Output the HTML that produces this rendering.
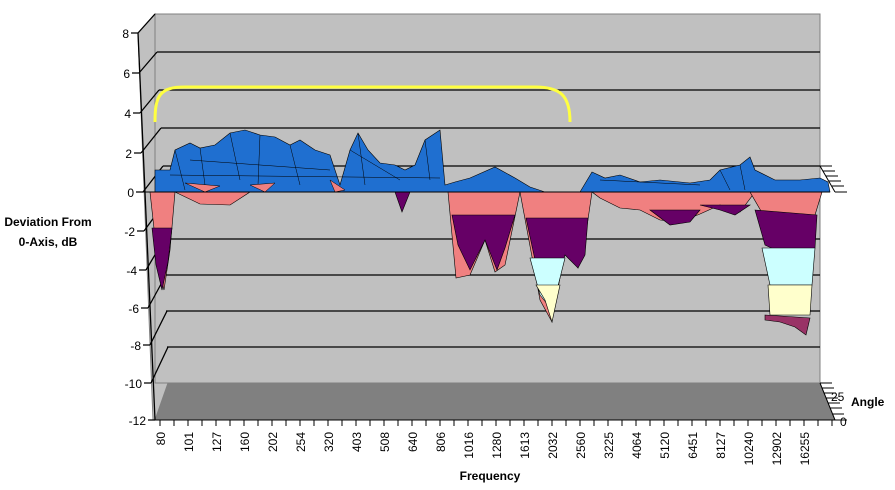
<!DOCTYPE html>
<html><head><style>body{margin:0;background:#fff}svg{display:block}text{font-family:"Liberation Sans",sans-serif}</style></head><body>
<svg width="895" height="490" xmlns="http://www.w3.org/2000/svg">
<rect width="895" height="490" fill="#fff"/>
<!-- side wall -->
<polygon points="138,33 155,14 168,383 155,420 153,420" fill="#c0c0c0" stroke="#808080"/>
<!-- back wall -->
<rect x="155" y="14" width="665" height="369" fill="#c0c0c0" stroke="#808080"/>
<!-- floor -->
<polygon points="155,420 168,383 820,383 835,420" fill="#808080"/>
<g stroke="#000" stroke-width="1.3">
<line x1="157" y1="52" x2="820" y2="52"/><line x1="159" y1="90" x2="820" y2="90"/><line x1="161" y1="128" x2="820" y2="128"/><line x1="163" y1="166" x2="820" y2="166"/>
<line x1="163" y1="239" x2="820" y2="239"/><line x1="165" y1="275" x2="820" y2="275"/><line x1="166" y1="311" x2="820" y2="311"/><line x1="167" y1="347" x2="820" y2="347"/>
<line x1="138" y1="33" x2="155" y2="14"/><line x1="139" y1="73" x2="157" y2="52"/><line x1="140" y1="113" x2="159" y2="90"/><line x1="141" y1="153" x2="161" y2="128"/><line x1="143" y1="192" x2="163" y2="166"/>
<line x1="144" y1="231" x2="163" y2="205"/><line x1="146" y1="270" x2="165" y2="238"/><line x1="148" y1="308" x2="166" y2="275"/><line x1="150" y1="345" x2="167" y2="311"/><line x1="151" y1="383" x2="168" y2="347"/>
<line x1="138" y1="33" x2="155" y2="420"/>
<path d="M131,33h7 M132,73h7 M133,113h7 M134,153h7 M136,192h7 M137,231h7 M139,270h7 M141,308h7 M143,345h7 M144,383h7 M148,420h7"/>
</g>
<!-- y labels -->
<g font-size="12" text-anchor="end" fill="#000">
<text x="129" y="38">8</text><text x="130" y="78">6</text><text x="131" y="118">4</text><text x="132" y="158">2</text><text x="134" y="197">0</text>
<text x="135" y="236">-2</text><text x="137" y="275">-4</text><text x="139" y="313">-6</text><text x="141" y="350">-8</text><text x="142" y="388">-10</text><text x="146" y="425">-12</text>
</g>
<!-- yellow curve -->
<path d="M155,122 C155,95 160,87 185,87 L535,87 C560,87 570,95 570,122" fill="none" stroke="#ffff40" stroke-width="3"/>
<!-- below zero -->
<g stroke="#000" stroke-width="0.6">
<polygon points="150,192 175,192 170,250 164,290 158,265" fill="#f08080"/>
<polygon points="152,228 172,228 168,262 162,290 156,265" fill="#660066"/>
<polygon points="175,192 250,192 230,205 200,204" fill="#f08080"/>
<polygon points="395,192 410,192 402,212" fill="#660066"/>
<polygon points="448,192 520,192 505,265 495,272 485,240 470,275 456,278" fill="#f08080"/>
<polygon points="452,215 515,215 505,248 497,270 485,240 470,270 458,245" fill="#660066"/>
<polygon points="520,192 592,192 585,240 578,268 565,250 552,322 540,300" fill="#f08080"/>
<polygon points="526,218 588,218 585,255 578,268 565,255 552,300 535,260" fill="#660066"/>
<polygon points="530,258 565,258 552,310 540,295" fill="#ccffff"/>
<polygon points="536,285 560,285 552,322 545,300" fill="#ffffcc"/>
<polygon points="592,192 755,192 740,212 720,205 700,214 680,222 660,220 640,210 620,208 600,198" fill="#f08080"/>
<polygon points="650,210 700,210 690,222 670,225" fill="#660066"/>
<polygon points="700,205 750,205 735,215 720,210" fill="#660066"/>
<polygon points="750,192 822,192 815,215 790,222 765,218" fill="#f08080"/>
<polygon points="755,210 817,215 815,248 780,252 765,245" fill="#660066"/>
<polygon points="762,248 815,248 812,285 770,285" fill="#ccffff"/>
<polygon points="768,285 812,285 810,315 770,315" fill="#ffffcc"/>
<polygon points="765,315 810,318 806,335 795,327 780,322 765,320" fill="#993366"/>
</g>
<!-- blue surface -->
<polygon points="155,192 155,170 170,170 175,150 190,143 200,148 215,145 230,133 245,130 260,135 275,137 290,145 300,140 315,150 330,155 340,185 350,150 358,133 368,150 380,163 395,165 405,170 415,165 425,140 440,130 445,185 455,182 470,178 495,167 515,178 530,187 545,192 580,192 592,172 605,178 620,175 640,182 660,180 690,183 710,180 720,170 740,165 750,157 755,170 775,180 800,180 820,178 828,182 830,192" fill="#1f6fd0" stroke="#000" stroke-width="0.6"/>
<g stroke="#000" stroke-width="0.5" fill="none">
<path d="M175,150 L185,190 M200,148 L205,185 M230,133 L240,180 M260,135 L258,185 M290,145 L300,185 M358,133 L365,185 M425,140 L430,180 M190,160 L330,170 M170,175 L440,178 M350,150 L400,180 M720,170 L730,190 M740,165 L745,190 M600,180 L700,185"/>
</g>
<polygon points="185,183 220,186 205,192" fill="#f08080" stroke="#000" stroke-width="0.5"/>
<polygon points="250,185 275,183 265,192" fill="#f08080" stroke="#000" stroke-width="0.5"/>
<polygon points="330,180 345,190 335,192" fill="#f08080" stroke="#000" stroke-width="0.5"/>
<!-- x axis line and ticks -->
<line x1="143" y1="192" x2="830" y2="192" stroke="#000"/>
<g stroke="#000">
<line x1="155" y1="420" x2="835" y2="420"/>
<path d="M160,420v6 M174,420v6 M188,420v6 M202,420v6 M216,420v6 M230,420v6 M244,420v6 M258,420v6 M272,420v6 M286,420v6 M300,420v6 M314,420v6 M328,420v6 M342,420v6 M356,420v6 M370,420v6 M384,420v6 M398,420v6 M412,420v6 M426,420v6 M440,420v6 M454,420v6 M468,420v6 M482,420v6 M496,420v6 M510,420v6 M524,420v6 M538,420v6 M552,420v6 M566,420v6 M580,420v6 M594,420v6 M608,420v6 M622,420v6 M636,420v6 M650,420v6 M664,420v6 M678,420v6 M692,420v6 M706,420v6 M720,420v6 M734,420v6 M748,420v6 M762,420v6 M776,420v6 M790,420v6 M804,420v6 M818,420v6 M832,420v6"/>
<path d="M820,383 L835,420 M820,383h12 M822,388h12 M824,393h12 M826,398h12 M828,403h12 M830,408h12 M832,414h12 M835,420h12"/>
<path d="M820,166 L835,192 M820,166h12 M823,171h12 M826,176h12 M829,181h12 M832,186h12 M835,192h12"/>
</g>
<g font-size="12" fill="#000" text-anchor="end">
<g transform="translate(165,432) rotate(-90)"><text>80</text></g>
<g transform="translate(193,432) rotate(-90)"><text>101</text></g>
<g transform="translate(221,432) rotate(-90)"><text>127</text></g>
<g transform="translate(249,432) rotate(-90)"><text>160</text></g>
<g transform="translate(277,432) rotate(-90)"><text>202</text></g>
<g transform="translate(305,432) rotate(-90)"><text>254</text></g>
<g transform="translate(333,432) rotate(-90)"><text>320</text></g>
<g transform="translate(361,432) rotate(-90)"><text>403</text></g>
<g transform="translate(389,432) rotate(-90)"><text>508</text></g>
<g transform="translate(417,432) rotate(-90)"><text>640</text></g>
<g transform="translate(445,432) rotate(-90)"><text>806</text></g>
<g transform="translate(473,432) rotate(-90)"><text>1016</text></g>
<g transform="translate(501,432) rotate(-90)"><text>1280</text></g>
<g transform="translate(529,432) rotate(-90)"><text>1613</text></g>
<g transform="translate(557,432) rotate(-90)"><text>2032</text></g>
<g transform="translate(585,432) rotate(-90)"><text>2560</text></g>
<g transform="translate(613,432) rotate(-90)"><text>3225</text></g>
<g transform="translate(641,432) rotate(-90)"><text>4064</text></g>
<g transform="translate(669,432) rotate(-90)"><text>5120</text></g>
<g transform="translate(697,432) rotate(-90)"><text>6451</text></g>
<g transform="translate(725,432) rotate(-90)"><text>8127</text></g>
<g transform="translate(753,432) rotate(-90)"><text>10240</text></g>
<g transform="translate(781,432) rotate(-90)"><text>12902</text></g>
<g transform="translate(809,432) rotate(-90)"><text>16255</text></g>
</g>
<g font-size="12" fill="#000"><text x="831" y="401">25</text><text x="840" y="426">0</text></g>
<g font-size="12" font-weight="bold" fill="#000">
<text x="48" y="226" text-anchor="middle">Deviation From</text>
<text x="48" y="246" text-anchor="middle">0-Axis, dB</text>
<text x="490" y="480" text-anchor="middle">Frequency</text>
<text x="851" y="406">Angle</text>
</g>
</svg>
</body></html>
